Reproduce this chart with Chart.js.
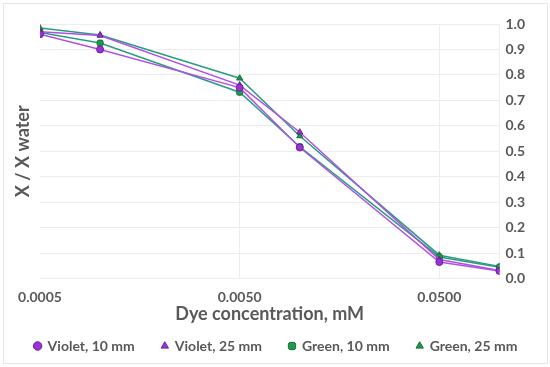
<!DOCTYPE html>
<html>
<head>
<meta charset="utf-8">
<script src="https://cdn.jsdelivr.net/npm/chart.js@4"></script>
<style>
  html, body { margin: 0; padding: 0; background: #fff; }
  #wrap { position: absolute; left: 3px; top: 3px; width: 543px; height: 359px; border: 1px solid #e6e6e6; }
</style>
</head>
<body>
<div id="wrap"><canvas id="chart"></canvas></div>
<script>
// dye concentration, mM (log axis)
const concentrations = [0.0005, 0.001, 0.005, 0.01, 0.05, 0.1];
const xTicks = [0.0005, 0.005, 0.05];

const violet10 = [0.960, 0.900, 0.750, 0.515, 0.065, 0.030];
const violet25 = [0.970, 0.955, 0.760, 0.575, 0.075, 0.032];
const green10  = [0.967, 0.925, 0.732, 0.518, 0.085, 0.045];
const green25  = [0.984, 0.957, 0.787, 0.560, 0.092, 0.048];

const grey = '#595959';
const font = 'Lato, "Open Sans", sans-serif';

function series(label, values, line, fill, border, style) {
  return {
    label: label,
    data: concentrations.map((c, i) => ({ x: c, y: values[i] })),
    borderColor: line,
    backgroundColor: fill,
    pointBackgroundColor: fill,
    pointBorderColor: border,
    pointBorderWidth: 1,
    pointStyle: style,
    pointRadius: 3.5,
    borderWidth: 1.5,
    tension: 0
  };
}

new Chart(document.getElementById('chart'), {
  type: 'line',
  data: {
    datasets: [
      series('Violet, 10 mm', violet10, '#b050e6', '#9a33d6', '#6a1f99', 'circle'),
      series('Violet, 25 mm', violet25, '#b050e6', '#9a33d6', '#6a1f99', 'triangle'),
      series('Green, 10 mm', green10, '#2a9d80', '#1e9a4e', '#156b36', 'rectRounded'),
      series('Green, 25 mm', green25, '#2a9d80', '#1e9a4e', '#156b36', 'triangle')
    ]
  },
  options: {
    responsive: true,
    maintainAspectRatio: false,
    animation: false,
    layout: { padding: { left: 1, right: 0, top: 20, bottom: 0 } },
    plugins: {
      tooltip: { enabled: false },
      legend: {
        position: 'bottom',
        labels: {
          usePointStyle: true,
          boxWidth: 6,
          boxHeight: 6,
          padding: 27,
          color: grey,
          font: { family: font, size: 14, weight: 'bold' }
        }
      }
    },
    scales: {
      x: {
        type: 'logarithmic',
        min: 0.0005,
        max: 0.1,
        afterBuildTicks: axis => { axis.ticks = xTicks.map(v => ({ value: v })); },
        afterFit: axis => { axis.paddingLeft = 28; },
        ticks: {
          color: grey,
          maxRotation: 0,
          padding: 10,
          font: { family: font, size: 14, weight: 'bold' },
          callback: v => Number(v).toFixed(4)
        },
        grid: {
          color: ctx => ctx.index === 0 ? 'rgba(0,0,0,0)' : '#ececec',
          drawTicks: false
        },
        border: { display: false },
        title: {
          display: true,
          text: 'Dye concentration, mM',
          color: grey,
          padding: { top: -12, bottom: -13 },
          font: { family: font, size: 18, weight: 'bold' }
        }
      },
      y: {
        position: 'right',
        min: 0,
        max: 1,
        afterFit: axis => { axis.width += 16; },
        ticks: {
          stepSize: 0.1,
          autoSkip: false,
          color: grey,
          padding: 6,
          font: { family: font, size: 14, weight: 'bold' },
          callback: v => Number(v).toFixed(1)
        },
        grid: { color: '#ececec', drawTicks: false },
        border: { color: '#ececec' }
      },
      yTitle: {
        position: 'left',
        min: 0,
        max: 1,
        ticks: { display: false, padding: 0 },
        grid: { display: false },
        border: { display: false },
        title: {
          display: true,
          text: 'X / X water',
          color: grey,
          padding: { top: 9, bottom: 0 },
          font: { family: font, size: 18, weight: 'bold', lineHeight: 1 }
        }
      }
    }
  }
});
</script>
</body>
</html>
